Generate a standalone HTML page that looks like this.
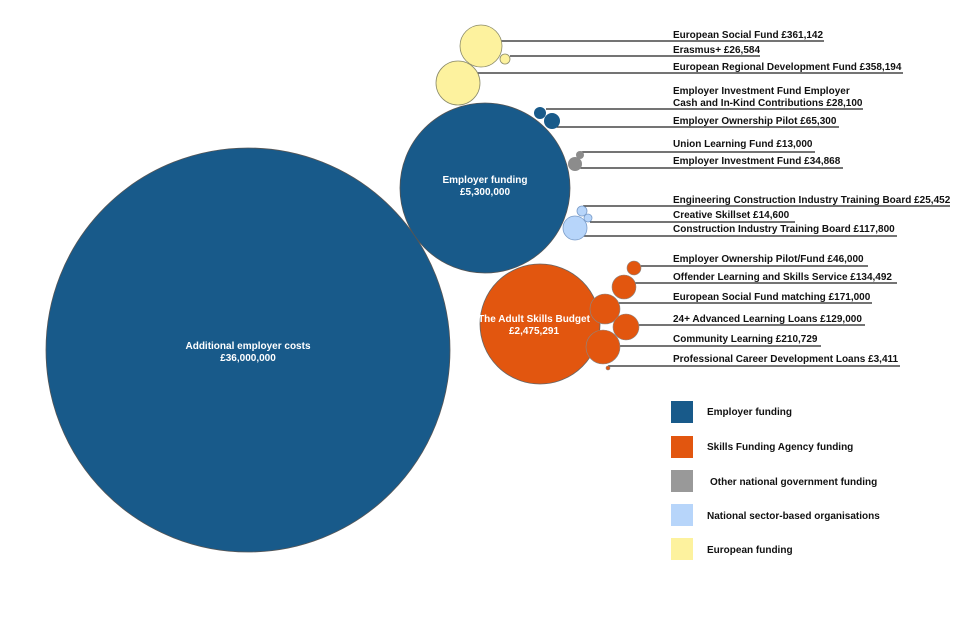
<!DOCTYPE html>
<html><head><meta charset="utf-8"><style>
html,body{margin:0;padding:0;background:#fff;}
svg{display:block;}
text{font-family:"Liberation Sans",sans-serif;font-weight:bold;font-size:10px;fill:#111;}
.w{fill:#fff;text-anchor:middle;font-size:10px;}
</style></head><body>
<svg width="960" height="640" viewBox="0 0 960 640">
<g stroke="#222" stroke-width="1.3">
<line x1="500" y1="41" x2="824" y2="41"/>
<line x1="510" y1="56" x2="760" y2="56"/>
<line x1="476" y1="73" x2="903" y2="73"/>
<line x1="546" y1="109" x2="863" y2="109"/>
<line x1="556" y1="127" x2="839" y2="127"/>
<line x1="580" y1="152" x2="815" y2="152"/>
<line x1="578" y1="168" x2="843" y2="168"/>
<line x1="583" y1="206" x2="950" y2="206"/>
<line x1="590" y1="222" x2="795" y2="222"/>
<line x1="580" y1="236" x2="897" y2="236"/>
<line x1="640" y1="266" x2="868" y2="266"/>
<line x1="628" y1="283" x2="897" y2="283"/>
<line x1="615" y1="303" x2="872" y2="303"/>
<line x1="638" y1="325" x2="865" y2="325"/>
<line x1="620" y1="346" x2="821" y2="346"/>
<line x1="608" y1="366" x2="900" y2="366"/>
</g>
<circle cx="248" cy="350" r="202" fill="#185a8a" stroke="#555" stroke-width="0.8"/>
<circle cx="485" cy="188" r="85" fill="#185a8a" stroke="#555" stroke-width="0.8"/>
<circle cx="540" cy="324" r="60" fill="#e2560f" stroke="#666" stroke-width="0.8"/>
<g stroke="#8a8a6a" stroke-width="0.8" fill="#fdf29e">
<circle cx="481" cy="46" r="21"/><circle cx="505" cy="59" r="5"/><circle cx="458" cy="83" r="22"/>
</g>
<g fill="#185a8a"><circle cx="540" cy="113" r="6"/><circle cx="552" cy="121" r="8"/></g>
<g fill="#8c8c8c"><circle cx="580" cy="155" r="4"/><circle cx="575" cy="164" r="7"/></g>
<g fill="#b7d5fa" stroke="#7a9cc8" stroke-width="0.8"><circle cx="582" cy="211" r="5"/><circle cx="588" cy="218" r="4"/><circle cx="575" cy="228" r="12"/></g>
<g fill="#e2560f" stroke="#888" stroke-width="0.6">
<circle cx="634" cy="268" r="7"/><circle cx="624" cy="287" r="12"/><circle cx="605" cy="309" r="15"/><circle cx="626" cy="327" r="13"/><circle cx="603" cy="347" r="17"/><circle cx="608" cy="368" r="2"/>
</g>
<text class="w" x="248" y="349">Additional employer costs</text>
<text class="w" x="248" y="361">£36,000,000</text>
<text class="w" x="485" y="183">Employer funding</text>
<text class="w" x="485" y="195">£5,300,000</text>
<text class="w" x="534" y="322">The Adult Skills Budget</text>
<text class="w" x="534" y="334">£2,475,291</text>
<text x="673" y="38">European Social Fund £361,142</text>
<text x="673" y="53">Erasmus+ £26,584</text>
<text x="673" y="70">European Regional Development Fund £358,194</text>
<text x="673" y="94">Employer Investment Fund Employer</text>
<text x="673" y="106">Cash and In-Kind Contributions £28,100</text>
<text x="673" y="124">Employer Ownership Pilot £65,300</text>
<text x="673" y="147">Union Learning Fund £13,000</text>
<text x="673" y="164">Employer Investment Fund £34,868</text>
<text x="673" y="203">Engineering Construction Industry Training Board £25,452</text>
<text x="673" y="218">Creative Skillset £14,600</text>
<text x="673" y="232">Construction Industry Training Board £117,800</text>
<text x="673" y="262">Employer Ownership Pilot/Fund £46,000</text>
<text x="673" y="280">Offender Learning and Skills Service £134,492</text>
<text x="673" y="300">European Social Fund matching £171,000</text>
<text x="673" y="322">24+ Advanced Learning Loans £129,000</text>
<text x="673" y="342">Community Learning £210,729</text>
<text x="673" y="362">Professional Career Development Loans £3,411</text>
<rect x="671" y="401" width="22" height="22" fill="#185a8a"/>
<rect x="671" y="436" width="22" height="22" fill="#e2560f"/>
<rect x="671" y="470" width="22" height="22" fill="#999"/>
<rect x="671" y="504" width="22" height="22" fill="#b7d5fa"/>
<rect x="671" y="538" width="22" height="22" fill="#fdf29e"/>
<text x="707" y="415">Employer funding</text>
<text x="707" y="450">Skills Funding Agency funding</text>
<text x="710" y="485">Other national government funding</text>
<text x="707" y="519">National sector-based organisations</text>
<text x="707" y="553">European funding</text>
</svg>
</body></html>
